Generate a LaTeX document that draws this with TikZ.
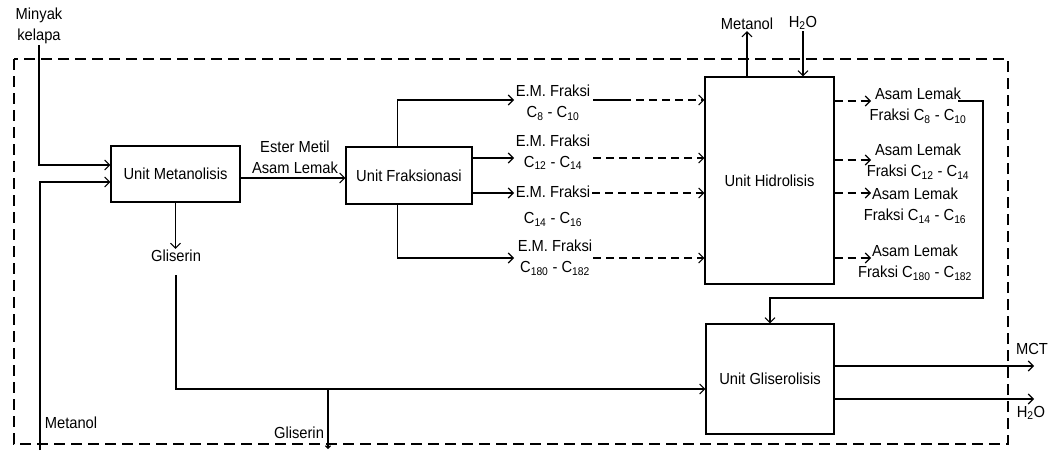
\documentclass[tikz,border=0pt]{standalone}
\usepackage{fontspec}
\setmainfont{Liberation Sans}[FakeStretch=0.92]
\usetikzlibrary{arrows.meta,calc}
\begin{document}
\begin{tikzpicture}[x=1pt,y=-1pt,
  font=\fontsize{16}{21}\selectfont,
  box/.style={draw,line width=1.1pt,inner sep=0pt},
  lbl/.style={align=center,inner sep=1pt},
  arr/.style={line width=1.1pt,-{Straight Barb[length=5pt,width=10pt]}},
  darr/.style={arr,dash pattern=on 8pt off 5pt},
  smallarr/.style={line width=1.1pt,-{Straight Barb[length=2.5pt,width=5pt]}},
  bound/.style={line width=1.8pt,dash pattern=on 11pt off 6pt}]
\useasboundingbox (0,0) rectangle (1055,450);

% boundary
\draw[bound] (14,59) rectangle (1008,444);

% units
\node[box,minimum width=129pt,minimum height=56pt] (met) at (175.5,174) {Unit Metanolisis};
\node[box,minimum width=126pt,minimum height=57pt] (frak) at (409,175.5) {Unit Fraksionasi};
\node[box,minimum width=129pt,minimum height=207pt] (hid) at (769.5,180.5) {Unit Hidrolisis};
\node[box,minimum width=128pt,minimum height=110pt] (gli) at (770,379) {Unit Gliserolisis};

% labels
\node[lbl] (minyak) at (39,26) {Minyak\\kelapa};
\node[lbl] (ester) at (295,157) {Ester Metil\\Asam Lemak};
\node[lbl] (em1) at (553,102.5) {E.M. Fraksi\\C\textsubscript{8} - C\textsubscript{10}};
\node[lbl] (em2) at (553,152) {E.M. Fraksi\\C\textsubscript{12} - C\textsubscript{14}};
\node[lbl] (em3) at (553,206.5) {E.M. Fraksi\\[5pt]C\textsubscript{14} - C\textsubscript{16}};
\node[lbl] (em4) at (555,257.5) {E.M. Fraksi\\C\textsubscript{180} - C\textsubscript{182}};
\node[lbl] (al1) at (918,106) {Asam Lemak\\Fraksi C\textsubscript{8} - C\textsubscript{10}};
\node[lbl] (al2) at (918,161.5) {Asam Lemak\\Fraksi C\textsubscript{12} - C\textsubscript{14}};
\node[lbl] (al3) at (915,206) {Asam Lemak\\Fraksi C\textsubscript{14} - C\textsubscript{16}};
\node[lbl] (al4) at (915,263) {Asam Lemak\\Fraksi C\textsubscript{180} - C\textsubscript{182}};
\node[lbl] (mtop) at (747,24) {Metanol};
\node[lbl] (htop) at (803,23) {H\textsubscript{2}O};
\node[lbl] (gl1) at (176,256) {Gliserin};
\node[lbl] (gl2) at (299,433) {Gliserin};
\node[lbl] (metb) at (71,423) {Metanol};
\node[lbl] (mct) at (1032,349) {MCT};
\node[lbl] (hout) at (1031,413) {H\textsubscript{2}O};

% helper coordinates
\coordinate (ex) at (514,0);
\coordinate (ax) at (871,0);
\coordinate (ox) at (1034,0);
\coordinate (mb) at (40,450);
\coordinate (c1) at (958,101);
\coordinate (c2) at (983,298);
\coordinate (b1) at (328,389);
\coordinate (b2) at (328,449);

% inputs to Metanolisis
\draw[arr] (minyak.south) |- ($(met.west)+(0,-9)$);
\draw[arr] (mb) |- ($(met.west)+(0,8)$);
\draw[arr] ($(met.east)+(0,4)$) -- ($(frak.west)+(0,2.5)$);

% Gliserin
\draw[arr] (met.south) -- (met.south |- gl1.north);
\draw[arr] ($(gl1.south)+(0,12)$) |- ($(gli.west)+(0,10)$);
\draw[smallarr] (b1) -- (b2);

% Fraksionasi outputs
\draw[arr] ($(frak.north west)+(52,0)$) |- ($(em1.west -| ex)+(0,-2.5)$);
\path ($(frak.east)+(0,-17.5)$) coordinate (f2);
\draw[arr] (f2) -- (f2 -| ex);
\path ($(frak.east)+(0,17.5)$) coordinate (f3);
\draw[arr] (f3) -- (f3 -| ex);
\draw[arr] ($(frak.south west)+(52,0)$) |- ($(em4.west -| ex)+(0,0.5)$);

% dashed to Hidrolisis
\path ($(em1.east)+(2,-2.5)$) coordinate (e1);
\draw[arr,dash pattern=on 38pt off 5pt on 8pt off 5pt on 8pt off 5pt on 8pt off 5pt on 8pt off 5pt on 8pt off 5pt] (e1) -- (e1 -| hid.west);
\path ($(em2.east)+(2,6)$) coordinate (e2);
\draw[darr] (e2) -- (e2 -| hid.west);
\path ($(em3.east)+(1,-13.5)$) coordinate (e3);
\draw[darr] (e3) -- (e3 -| hid.west);
\path ($(em4.east)+(0,0.5)$) coordinate (e4);
\draw[darr] (e4) -- (e4 -| hid.west);

% top of Hidrolisis
\draw[arr] (mtop.south |- hid.north) -- (mtop.south);
\draw[arr] (htop.south) -- (htop.south |- hid.north);

% Hidrolisis outputs
\path ($(hid.east)+(0,-79.5)$) coordinate (h1);
\draw[darr] (h1) -- (h1 -| ax);
\path ($(hid.east)+(0,-20.5)$) coordinate (h2);
\draw[darr] (h2) -- (h2 -| ax);
\path ($(hid.east)+(0,12.5)$) coordinate (h3);
\draw[darr] (h3) -- (h3 -| ax);
\path ($(hid.east)+(0,77.5)$) coordinate (h4);
\draw[darr] (h4) -- (h4 -| ax);

% collector to Gliserolisis
\draw[arr] (c1) -| (c2) -| (gli.north);

% Gliserolisis outputs
\path ($(gli.east)+(0,-13)$) coordinate (g1);
\draw[arr] (g1) -- (g1 -| ox);
\path ($(gli.east)+(0,20)$) coordinate (g2);
\draw[arr] (g2) -- (g2 -| ox);
\end{tikzpicture}
\end{document}
